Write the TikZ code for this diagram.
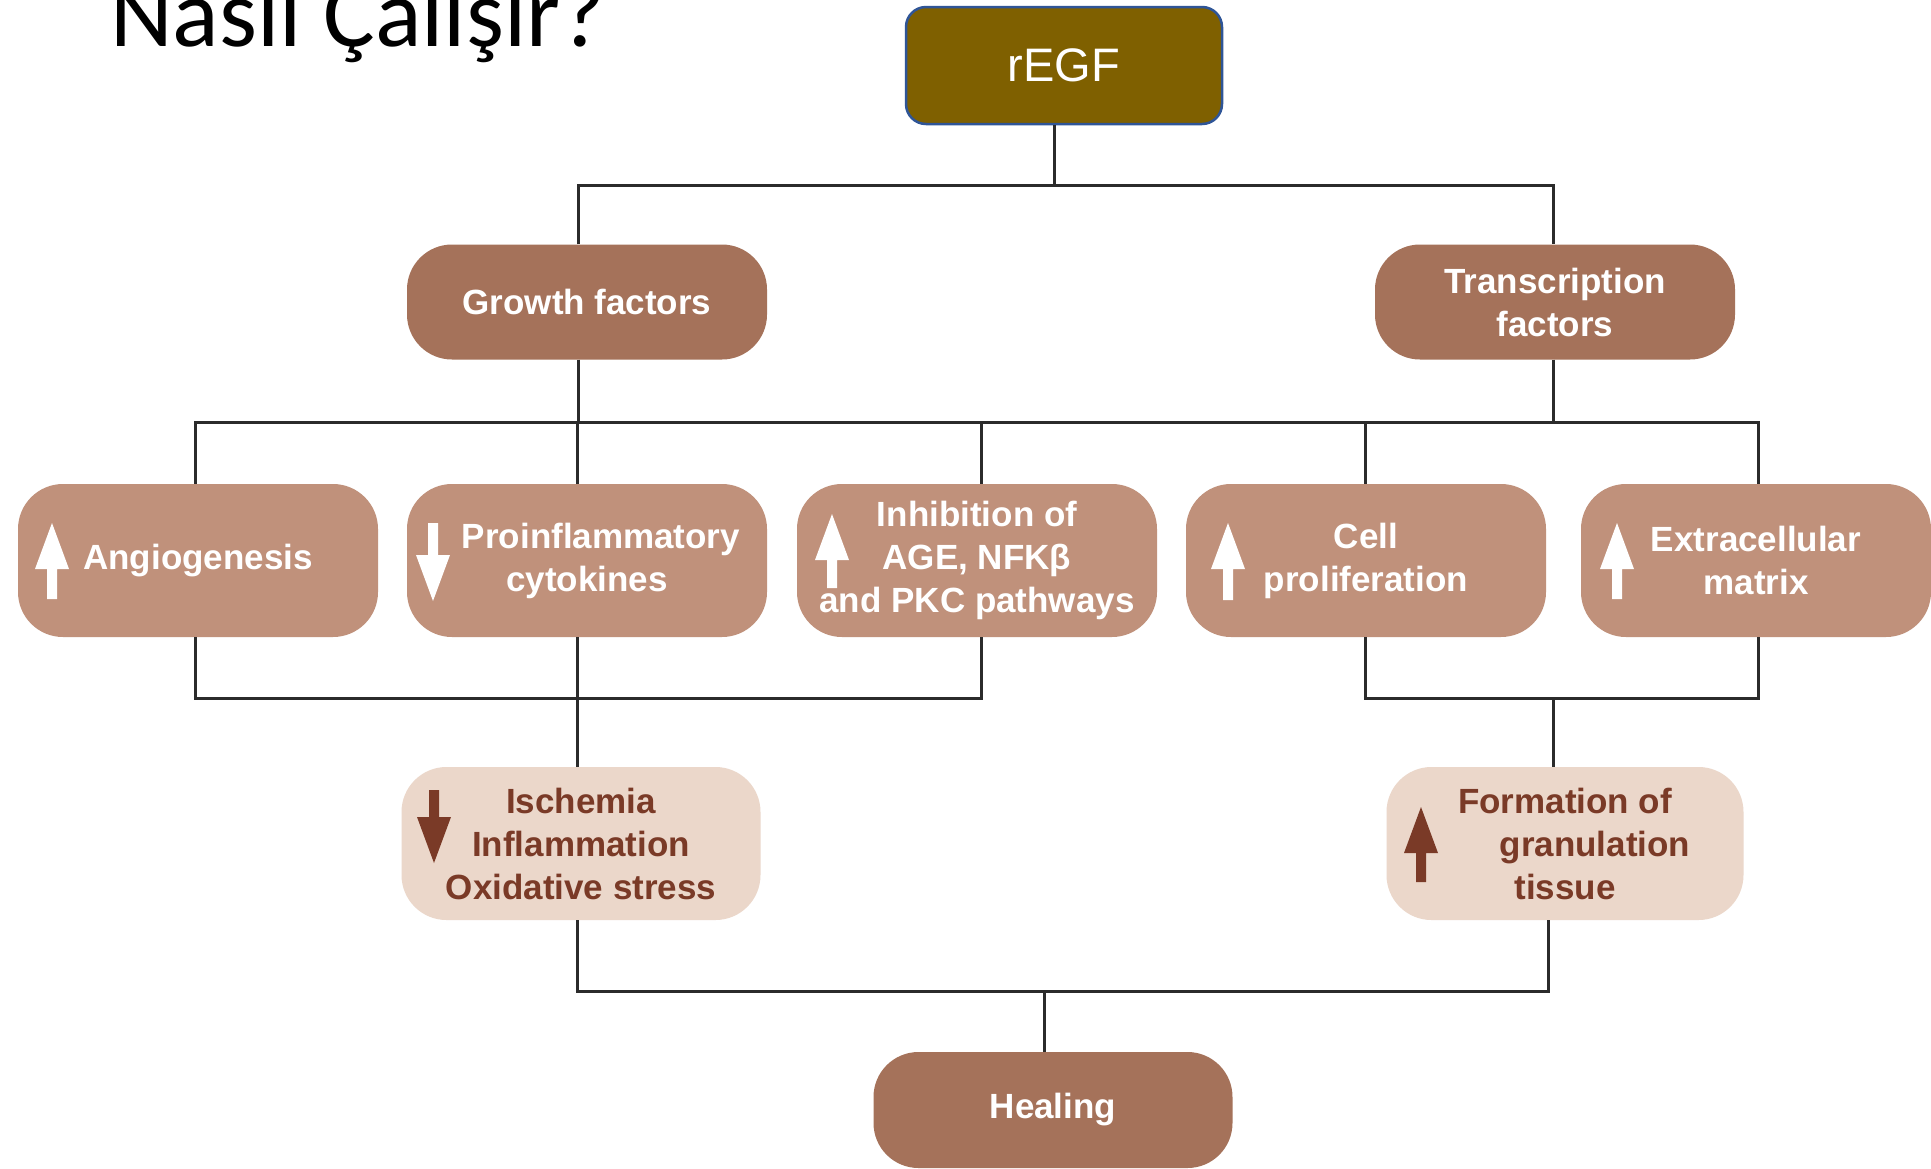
\documentclass[tikz,border=0pt]{standalone}
\usepackage{fontspec}
\setmainfont{Liberation Sans}
\newfontfamily\titlefont{Carlito}
\definecolor{regf}{HTML}{7F6000}
\definecolor{regfb}{HTML}{2F5597}
\definecolor{darkbox}{HTML}{A5725A}
\definecolor{midbox}{HTML}{C0917B}
\definecolor{lightbox}{HTML}{EBD7CA}
\definecolor{darktext}{HTML}{7A3A27}
\definecolor{linec}{HTML}{2B2B2B}
\newcommand\myUp[4]{%
  \fill[#4] (#1-5,#3) -- (#1-5,#2+46) -- (#1-17,#2+46) -- (#1,#2) -- (#1+17,#2+46) -- (#1+5,#2+46) -- (#1+5,#3) -- cycle;}
\newcommand\myDown[4]{%
  \fill[#4] (#1-5,#2) -- (#1-5,#3-46) -- (#1-17,#3-46) -- (#1,#3) -- (#1+17,#3-46) -- (#1+5,#3-46) -- (#1+5,#2) -- cycle;}
\tikzset{
  bigbox/.style={rounded corners=45pt, minimum width=360pt, inner sep=0pt, align=center,
    text=white, font=\bfseries\fontsize{35}{43}\selectfont},
  topbox/.style={bigbox, fill=darkbox, minimum height=115pt},
  midbx/.style={bigbox, fill=midbox, minimum height=153pt},
  lowbx/.style={bigbox, fill=lightbox, minimum height=153pt, text=darktext},
  conn/.style={draw=linec, line width=3pt},
}
\begin{document}
\begin{tikzpicture}[x=1pt,y=-1pt]
\useasboundingbox[fill=white] (0,0) rectangle (1931,1168);
\node[anchor=base west, inner sep=0pt, font=\titlefont\fontsize{97}{97}\selectfont] (title) at (110,46) {Nasıl Çalışır?};

\node[rounded corners=20pt, minimum width=316pt, minimum height=117pt, fill=regf, draw=regfb,
  line width=2.5pt, text=white, font=\fontsize{47}{47}\selectfont] (regf) at (1064,65.5) {rEGF};

\node[topbox] (growth) at (587,302) {Growth factors};
\node[topbox] (trans) at (1555,302) {Transcription\\factors};

\node[midbx] (angio) at (198,560.5) {Angiogenesis};
\node[midbx] (proinf) at (587,560.5) {\hspace*{28pt}Proinflammatory\\cytokines};
\node[midbx] (inhib) at (977,560.5) {Inhibition of\\AGE, NFKβ\\and PKC pathways};
\node[midbx] (cell) at (1366,560.5) {Cell\\proliferation};
\node[midbx, minimum width=350pt] (extra) at (1756,560.5) {Extracellular\\matrix};

\node[lowbx, minimum width=359pt] (isch) at (581,843.5) {Ischemia\\Inflammation\\Oxidative stress};
\node[lowbx, minimum width=357pt] (form) at (1565,843.5) {Formation of\\\hspace*{60pt}granulation\\tissue};

\node[topbox, minimum width=359pt, minimum height=116pt] (heal) at (1053,1110) {Healing};

% arrows inside boxes
\myUp{52}{523}{599}{white}
\myDown{433}{523}{601}{white}
\myUp{832}{514}{588}{white}
\myUp{1228}{523}{600}{white}
\myUp{1617}{523}{599}{white}
\myDown{434}{790}{863}{darktext}
\myUp{1421}{807}{882}{darktext}

% junction levels
\coordinate (y1) at (0,185);
\coordinate (y2) at (0,422);
\coordinate (y3) at (0,698);
\coordinate (y4) at (0,991);

\draw[conn] ([xshift=-10pt]regf.south) -- ([xshift=-10pt]regf.south |- y1);
\draw[conn] ([xshift=-9pt]growth.north) -- ([xshift=-9pt]growth.north |- y1) -- ([xshift=-2pt]trans.north |- y1) -- ([xshift=-2pt]trans.north);

\draw[conn] ([xshift=-9pt]growth.south) -- ([xshift=-9pt]growth.south |- y2);
\draw[conn] ([xshift=-2pt]trans.south) -- ([xshift=-2pt]trans.south |- y2);
\draw[conn] ([xshift=-3pt]angio.north) -- ([xshift=-3pt]angio.north |- y2) -- ([xshift=2pt]extra.north |- y2) -- ([xshift=2pt]extra.north);
\draw[conn] ([xshift=-10pt]proinf.north) -- ([xshift=-10pt]proinf.north |- y2);
\draw[conn] ([xshift=4pt]inhib.north) -- ([xshift=4pt]inhib.north |- y2);
\draw[conn] ([xshift=-1pt]cell.north) -- ([xshift=-1pt]cell.north |- y2);

\draw[conn] ([xshift=-3pt]angio.south) -- ([xshift=-3pt]angio.south |- y3) -- ([xshift=4pt]inhib.south |- y3) -- ([xshift=4pt]inhib.south);
\draw[conn] ([xshift=-10pt]proinf.south) -- ([xshift=-4pt]isch.north);
\draw[conn] ([xshift=-1pt]cell.south) -- ([xshift=-1pt]cell.south |- y3) -- ([xshift=2pt]extra.south |- y3) -- ([xshift=2pt]extra.south);
\draw[conn] ([xshift=-12pt]form.north) -- ([xshift=-12pt]form.north |- y3);

\draw[conn] ([xshift=-4pt]isch.south) -- ([xshift=-4pt]isch.south |- y4) -- ([xshift=-17pt]form.south |- y4) -- ([xshift=-17pt]form.south);
\draw[conn] ([xshift=-9pt]heal.north) -- ([xshift=-9pt]heal.north |- y4);
\end{tikzpicture}
\end{document}
